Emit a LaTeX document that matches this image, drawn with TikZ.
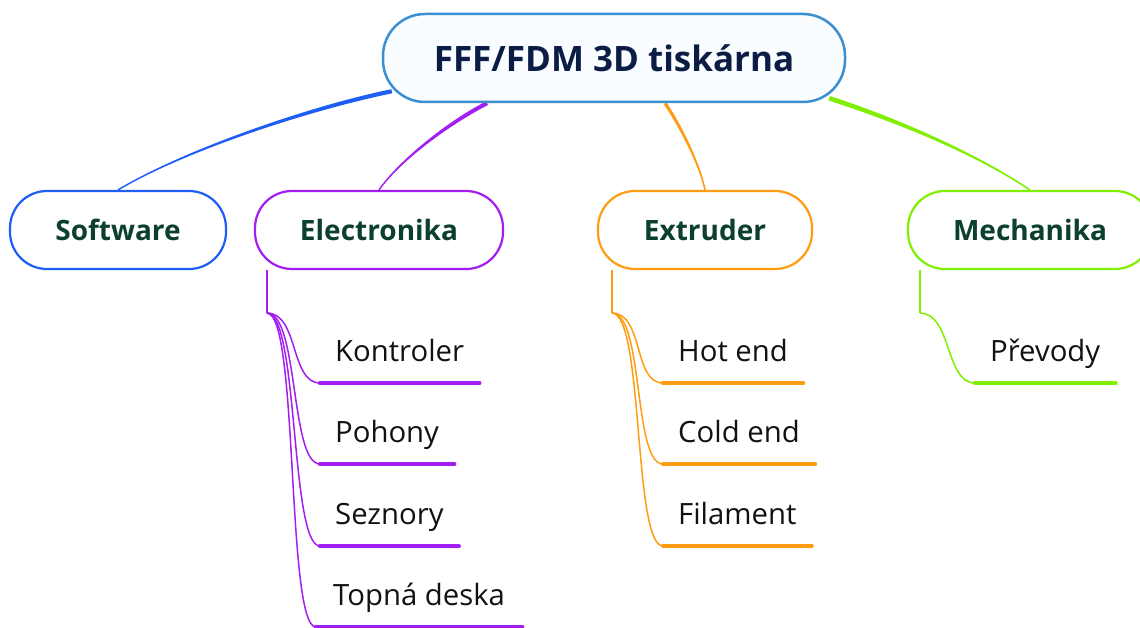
\documentclass[tikz,border=0pt]{standalone}
\usepackage{fontspec}
\setmainfont{Open Sans}
\usetikzlibrary{calc,backgrounds}
\definecolor{rootblue}{HTML}{3A8FD2}
\definecolor{rootfill}{HTML}{FAFDFF}
\definecolor{rootnavy}{HTML}{0B1D45}
\definecolor{catgreen}{HTML}{0B3F2F}
\definecolor{swblue}{HTML}{1E5EF7}
\definecolor{elpurple}{HTML}{A21EF2}
\definecolor{exorange}{HTML}{FF9C12}
\definecolor{megreen}{HTML}{80F000}
\definecolor{leafblack}{HTML}{111111}
\newcommand\taperline[7]{\fill[#1] ($#2+#6$) .. controls ($#3+#6$) and ($#4+#7$) .. ($#5+#7$) -- ($#5-#7$) .. controls ($#4-#7$) and ($#3-#6$) .. ($#2-#6$) -- cycle;}
\begin{document}
\begin{tikzpicture}[x=1pt,y=-1pt,
  rootbox/.style={draw=rootblue, line width=2.5pt, fill=rootfill, rounded corners=42pt,
    minimum width=462pt, minimum height=88pt, inner sep=0pt, text=rootnavy,
    font=\bfseries\fontsize{35}{40}\selectfont},
  catbox/.style={draw=#1, line width=2.2pt, fill=white, rounded corners=37pt,
    minimum height=78pt, inner sep=0pt, text=catgreen,
    font=\bfseries\fontsize{28}{32}\selectfont},
  leaf/.style={anchor=south west, inner xsep=15pt, inner ysep=0pt, text depth=21pt,
    text=leafblack, font=\fontsize{29.3}{34}\selectfont},
  uline/.style={draw=#1, line width=4.5pt, line cap=round},
  twig/.style={draw=#1, line width=1.5pt}]
\useasboundingbox (0,0) rectangle (1140,628);
\clip (0,0) rectangle (1140,628);

% main nodes
\node[rootbox] (root) at (614,58) {FFF/FDM 3D tiskárna};
\node[catbox=swblue, minimum width=216pt] (sw) at (118,230) {Software};
\node[catbox=elpurple, minimum width=248pt] (el) at (379,230) {Electronika};
\node[catbox=exorange, minimum width=214pt] (ex) at (705,230) {Extruder};
\node[catbox=megreen, minimum width=244pt] (me) at (1030,230) {Mechanika};

% leaves
\node[leaf] (k1) at (320,383) {Kontroler};
\node[leaf] (k2) at (320,464) {Pohony};
\node[leaf] (k3) at (320,546) {Seznory};
\node[leaf, inner xsep=17pt] (k4) at (316,627) {Topná deska};
\node[leaf] (x1) at (663,383) {Hot end};
\node[leaf] (x2) at (663,464) {Cold end};
\node[leaf] (x3) at (663,546) {Filament};
\node[leaf] (m1) at (975,383) {Převody};

% junction coordinates
\coordinate (s0) at ($(root.south west)+(10,-12)$);
\coordinate (e0) at ($(root.south)+(-127,0)$);
\coordinate (x0) at ($(root.south)+(51,0)$);
\coordinate (m0) at ($(root.south east)+(-17,-5)$);
\coordinate (elt) at ($(el.south west)+(13,0)$);
\coordinate (elj) at ($(elt)+(0,43)$);
\coordinate (ext) at ($(ex.south west)+(15,0)$);
\coordinate (exj) at ($(ext)+(0,43)$);
\coordinate (met) at ($(me.south west)+(13,0)$);
\coordinate (mej) at ($(met)+(0,43)$);

\begin{pgfonlayer}{background}
\fill[white] (0,0) rectangle (1140,628);
\taperline{swblue}{(s0)}{(310,108)}{(185,150)}{(sw.north)}{(0.45,2.05)}{(0.37,0.6)}
\taperline{elpurple}{(e0)}{(450,122)}{(400,160)}{(el.north)}{(1.0,1.8)}{(0.58,0.39)}
\taperline{exorange}{(x0)}{(680,125)}{(700,165)}{(ex.north)}{(1.35,-0.87)}{(0.79,-0.15)}
\taperline{megreen}{(m0)}{(890,118)}{(970,150)}{(me.north)}{(-0.75,2.2)}{(-0.45,0.66)}
\end{pgfonlayer}

% electronika branch
\draw[twig=elpurple] (elt) -- (elj);
\foreach \n in {k1,k2,k3,k4}{
  \draw[twig=elpurple] (elj) .. controls +(32,0) and +(-30,0) .. (\n.south west);
  \draw[uline=elpurple] (\n.south west) -- (\n.south east);
}
% extruder branch
\draw[twig=exorange] (ext) -- (exj);
\foreach \n in {x1,x2,x3}{
  \draw[twig=exorange] (exj) .. controls +(32,0) and +(-30,0) .. (\n.south west);
  \draw[uline=exorange] (\n.south west) -- (\n.south east);
}
% mechanika branch
\draw[twig=megreen] (met) -- (mej);
\draw[twig=megreen] (mej) .. controls +(32,0) and +(-30,0) .. (m1.south west);
\draw[uline=megreen] (m1.south west) -- (m1.south east);
\end{tikzpicture}
\end{document}
